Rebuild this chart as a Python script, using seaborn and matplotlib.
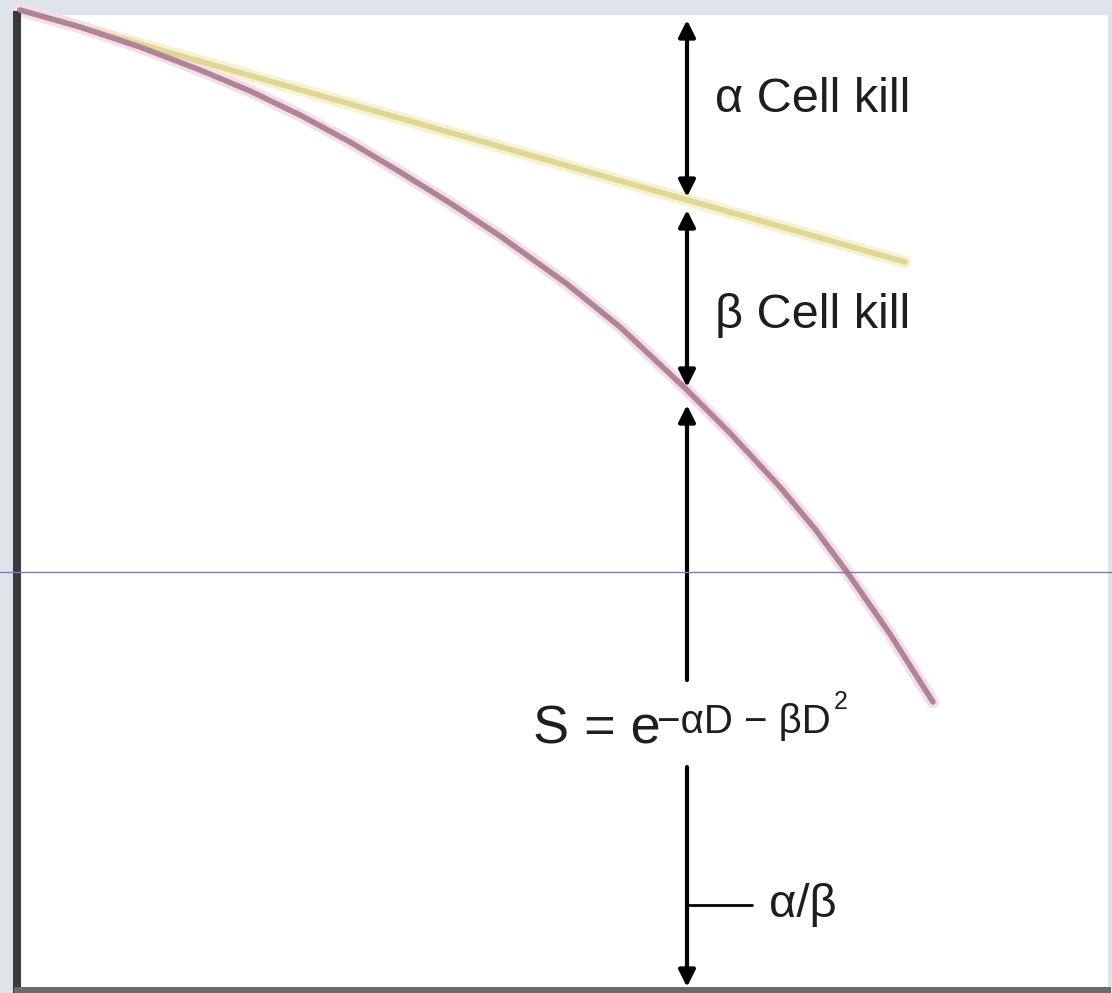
import matplotlib
matplotlib.use("Agg")
import matplotlib.pyplot as plt
import numpy as np
import seaborn as sns

# dose (arbitrary units) vs log cell survival
lq_dose = [0.03, 0.63, 1.23, 1.83, 2.33, 2.83, 3.33, 3.83, 4.33, 4.83, 5.50, 6.03,
           6.69, 7.13, 7.63, 7.98, 8.30, 8.73, 9.16]
lq_logs = [0.0, -0.17, -0.37, -0.60, -0.81, -1.05, -1.32, -1.62, -1.93, -2.26, -2.74, -3.17,
           -3.79, -4.23, -4.77, -5.19, -5.62, -6.24, -6.92]

alpha_dose = [0.03, 8.88]
alpha_logs = [0.0, -2.52]

# marker dose for the arrows and the level of the alpha/beta tick
mark_dose = 6.70
ab_level = -8.95
ref_level = -5.62

sns.set_style("white")
plt.rcParams["font.family"] = ["Liberation Sans", "DejaVu Sans"]

fig = plt.figure(figsize=(11.12, 9.93), dpi=100)
fig.patch.set_facecolor("#dfe4ea")
ax = fig.add_axes([17/1112, 3/993, 1091/1112, 975/993])
ax.set_facecolor("white")

# soft halos then the curves
ax.plot(alpha_dose, alpha_logs, color="#f8f1cf", lw=9, solid_capstyle="round", zorder=1, clip_on=False)
ax.plot(lq_dose, lq_logs, color="#f6dce8", lw=9, solid_capstyle="round", zorder=1, clip_on=False)
sns.lineplot(x=alpha_dose, y=alpha_logs, ax=ax, color="#e0d794", lw=4, sort=False, zorder=2, clip_on=False)
sns.lineplot(x=lq_dose, y=lq_logs, ax=ax, color="#ad8597", lw=4, sort=False, zorder=3, clip_on=False)

ax.set_xlim(0, 10.91)
ax.set_ylim(-9.80, -0.05)
ax.set_xticks([])
ax.set_yticks([])
for s in ["top", "right"]:
    ax.spines[s].set_visible(False)
ax.spines["left"].set_color("#3a3a3a")
ax.spines["left"].set_linewidth(5.8)
ax.spines["bottom"].set_color("#6a6a6a")
ax.spines["bottom"].set_linewidth(4.3)

arw = dict(arrowstyle="<|-|>", color="black", lw=3, mutation_scale=25, shrinkA=0, shrinkB=0)
ax.annotate("", xy=(mark_dose, -0.10), xytext=(mark_dose, -1.87), arrowprops=arw)
ax.annotate("", xy=(mark_dose, -2.00), xytext=(mark_dose, -3.77), arrowprops=arw)
ax.annotate("", xy=(mark_dose, -3.95), xytext=(mark_dose, -6.70),
            arrowprops=dict(arw, arrowstyle="-|>"))
ax.annotate("", xy=(mark_dose, -9.77), xytext=(mark_dose, -7.57),
            arrowprops=dict(arw, arrowstyle="-|>"))
ax.plot([mark_dose, 7.35], [ab_level, ab_level], color="black", lw=2)

tc = "#1e1e1e"
ax.text(6.98, -0.90, "α Cell kill", fontsize=35, color=tc, va="center", ha="left")
ax.text(6.98, -3.05, "β Cell kill", fontsize=35, color=tc, va="center", ha="left")
ax.text(5.16, -7.20, "S = e", fontsize=39, color=tc, va="center", ha="left")
ax.text(6.40, -7.12, "−αD − βD", fontsize=29, color=tc, va="center", ha="left")
ax.text(8.17, -6.92, "2", fontsize=18, color=tc, va="center", ha="left")
ax.text(7.52, ab_level, "α/β", fontsize=34, color=tc, va="center", ha="left")

ax.axhline(ref_level, xmin=-0.02, xmax=1.01, color="#7a7acb", lw=1, clip_on=False, zorder=5)

fig.savefig("out.png", dpi=100, facecolor=fig.get_facecolor())
